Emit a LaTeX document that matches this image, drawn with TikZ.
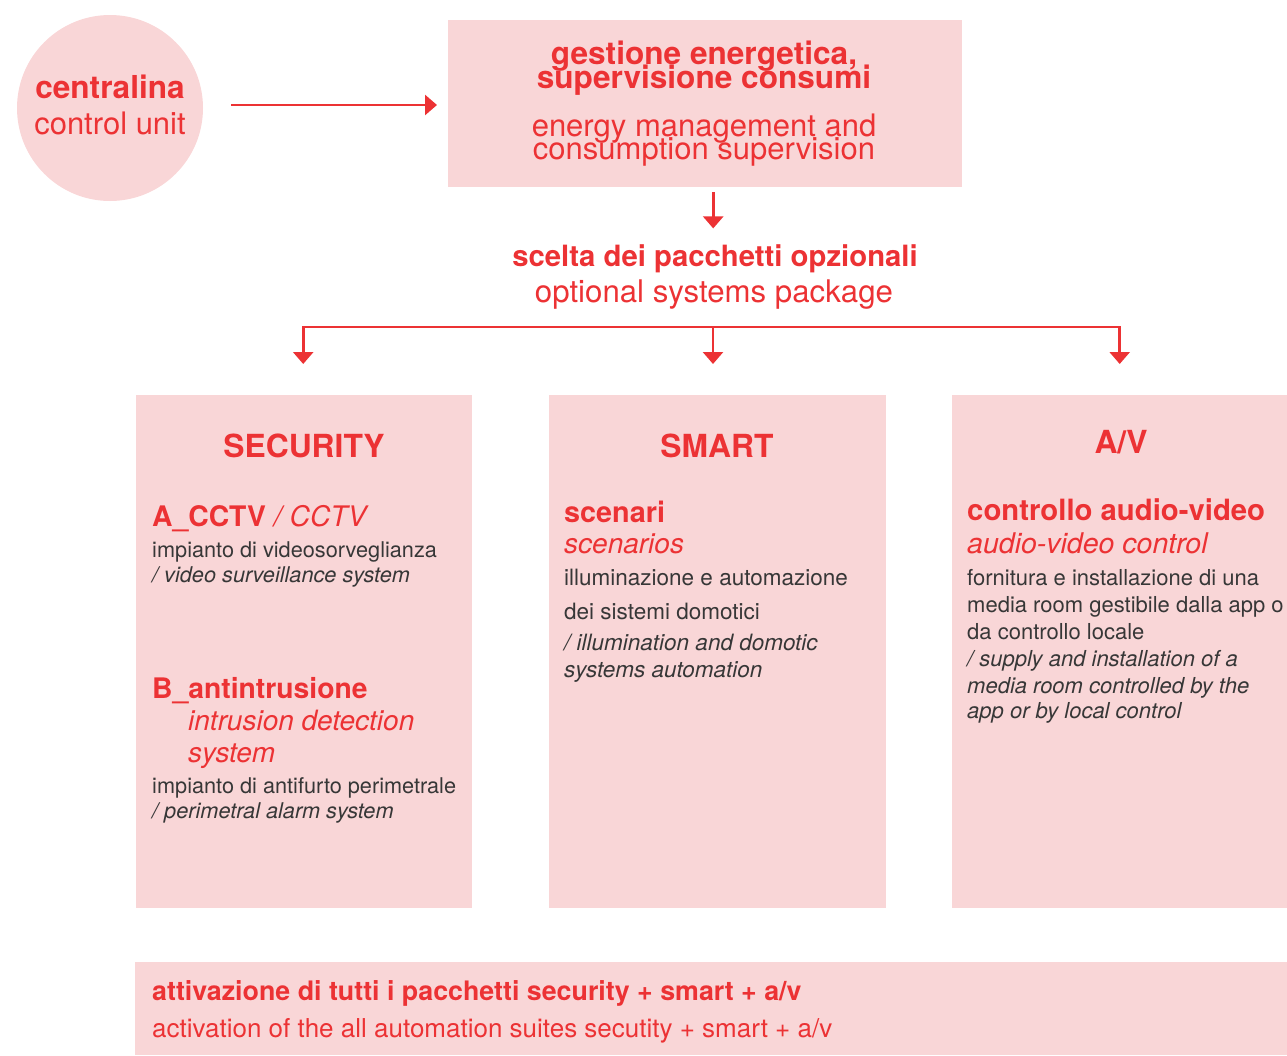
\documentclass[tikz,border=0pt]{standalone}
\usepackage{fontspec}
\setmainfont{TeX Gyre Heros}
\usetikzlibrary{arrows.meta}
\definecolor{rd}{RGB}{236,50,52}
\definecolor{pk}{RGB}{249,214,215}
\definecolor{gy}{RGB}{55,55,55}
\newcommand{\fsz}[1]{\fontsize{#1}{#1}\selectfont}
\begin{document}
\begin{tikzpicture}[x=1pt,y=-1pt,
  panel/.style={fill=pk, draw=none, inner sep=0, anchor=north west},
  txt/.style={inner sep=0, anchor=base west, text=rd},
  ctxt/.style={inner sep=0, anchor=base, text=rd},
  body/.style={inner sep=0, anchor=base west, text=gy},
  conn/.style={draw=rd, line width=2.7pt, -{Triangle[length=12pt,width=20pt]}},
]
\useasboundingbox (0,0) rectangle (1287,1055);

% control unit
\node[circle, fill=pk, minimum size=186pt, inner sep=0] (cu) at (110,108) {};
\node[ctxt, font=\bfseries\fsz{31.6}] (cu1) at (110,98) {centralina};
\node[ctxt, font=\fsz{31}] (cu2) at (110,134) {control unit};

% energy management box
\node[panel, minimum width=514pt, minimum height=167pt] (ge) at (448,20) {};
\node[ctxt, font=\bfseries\fsz{31.6}] (ge1) at (704,64) {gestione energetica,};
\node[ctxt, font=\bfseries\fsz{31.6}] (ge2) at (704,88) {supervisione consumi};
\node[ctxt, font=\fsz{31}] (ge3) at (704,136) {energy management and};
\node[ctxt, font=\fsz{31}] (ge4) at (704,159) {consumption supervision};

\draw[conn, shorten >=11pt] ([xshift=28pt,yshift=3pt]cu.east) coordinate (as) -- (as -| ge.west);

% optional packages
\node[ctxt, font=\bfseries\fsz{29.3}] (sc1) at (715,266) {scelta dei pacchetti opzionali};
\node[ctxt, font=\fsz{31.2}] (sc2) at (714,302) {optional systems package};
\draw[conn] ([xshift=8pt,yshift=-5pt]ge.south) -- ++(0,36);

% panels
\node[panel, minimum width=336pt, minimum height=513pt] (sec) at (136,395) {};
\node[panel, minimum width=337pt, minimum height=513pt] (sm) at (549,395) {};
\node[panel, minimum width=335pt, minimum height=513pt] (av) at (952,395) {};
\node[panel, minimum width=1152pt, minimum height=93pt] (all) at (135,962) {};

% branching connectors
\coordinate (jn) at (713,327);
\draw[conn, shorten >=31pt] (jn) -| ([xshift=-1pt]sec.north);
\draw[conn, shorten >=31pt] (jn) -- (jn |- sm.north);
\draw[conn, shorten >=31pt] (jn) -| (sec.north -| av.north);

% SECURITY
\node[ctxt, font=\bfseries\fsz{31.8}] (s0) at (304,457) {SECURITY};
\node[txt, font=\fsz{28.3}] (s1) at (152,526) {\bfseries A\_CCTV\mdseries\itshape{} / CCTV};
\node[body, font=\fsz{21.7}] (s2) at (152,557) {impianto di videosorveglianza};
\node[body, font=\itshape\fsz{21.7}] (s3) at (152,582) {/ video surveillance system};
\node[txt, font=\bfseries\fsz{28.3}] (s4) at (152,698) {B\_antintrusione};
\node[txt, font=\itshape\fsz{28}] (s5) at (188,730) {intrusion detection};
\node[txt, font=\itshape\fsz{28}] (s6) at (188,762) {system};
\node[body, font=\fsz{21.7}] (s7) at (152,793) {impianto di antifurto perimetrale};
\node[body, font=\itshape\fsz{21.7}] (s8) at (152,818) {/ perimetral alarm system};

% SMART
\node[ctxt, font=\bfseries\fsz{31.8}] (m0) at (717,457) {SMART};
\node[txt, font=\bfseries\fsz{28.8}] (m1) at (564,522) {scenari};
\node[txt, font=\itshape\fsz{28}] (m2) at (564,553) {scenarios};
\node[body, font=\fsz{22.5}] (m3) at (564,585) {illuminazione e automazione};
\node[body, font=\fsz{22.5}] (m4) at (564,619) {dei sistemi domotici};
\node[body, font=\itshape\fsz{22.5}] (m5) at (564,650) {/ illumination and domotic};
\node[body, font=\itshape\fsz{22.5}] (m6) at (564,677) {systems automation};

% A/V
\node[ctxt, font=\bfseries\fsz{31.8}] (v0) at (1121,453) {A/V};
\node[txt, font=\bfseries\fsz{29.3}] (v1) at (967,520) {controllo audio-video};
\node[txt, font=\itshape\fsz{28.5}] (v2) at (967,553) {audio-video control};
\node[body, font=\fsz{22}] (v3) at (967,585) {fornitura e installazione di una};
\node[body, font=\fsz{22}] (v4) at (967,612) {media room gestibile dalla app o};
\node[body, font=\fsz{22}] (v5) at (967,639) {da controllo locale};
\node[body, font=\itshape\fsz{22}] (v6) at (967,666) {/ supply and installation of a};
\node[body, font=\itshape\fsz{22}] (v7) at (967,693) {media room controlled by the};
\node[body, font=\itshape\fsz{22}] (v8) at (967,718) {app or by local control};

% all packages
\node[txt, font=\bfseries\fsz{26.8}] (b1) at (152,1000) {attivazione di tutti i pacchetti security + smart + a/v};
\node[txt, font=\fsz{26}] (b2) at (152,1037) {activation of the all automation suites secutity + smart + a/v};
\end{tikzpicture}
\end{document}
